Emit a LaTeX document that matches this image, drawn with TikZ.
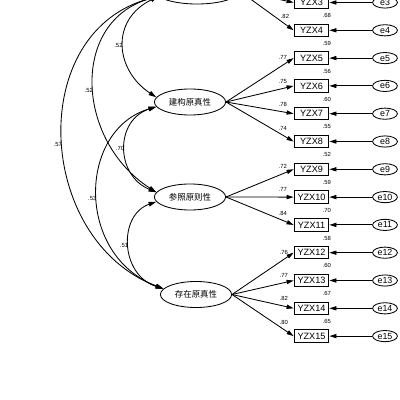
\documentclass[tikz,border=0pt]{standalone}
\usepackage{fontspec}
\setmainfont{Liberation Sans}
\newfontfamily\cjk{Noto Sans CJK SC}
\usetikzlibrary{shapes.geometric,arrows.meta,calc}

\begin{document}
\begin{tikzpicture}[
      x=0.025cm, y=0.025cm,
      latent/.style={ellipse, draw, line width=0.6pt, minimum width=1.78cm,
                    minimum height=0.65cm, inner sep=0pt,
                    font=\cjk\fontsize{6}{7}\selectfont},
      obs/.style={rectangle, draw, line width=0.7pt, minimum width=0.87cm,
                    minimum height=0.31cm, inner sep=0pt,
                    font=\fontsize{6.5}{7}\selectfont},
      err/.style={ellipse, draw, line width=0.6pt, minimum width=0.62cm,
                    minimum height=0.28cm, inner sep=0pt,
                    font=\fontsize{6.3}{7}\selectfont},
      coef/.style={font=\fontsize{4.2}{5}\selectfont, inner sep=0.5pt},
      arr/.style={-{Triangle[length=5pt,width=3pt]}, line width=0.6pt},
      cov/.style={{Triangle[length=5.5pt,width=3.2pt]}-{Triangle[length=5.5pt,width=3.2pt]}, line width=0.6pt}
    ]
      \useasboundingbox (0,0) rectangle (400,-400);
      \clip (0,0) rectangle (400,-400);
      % latent factors
      \node[latent, minimum width=2.1cm] (L1) at (197,9) {};
      \node[latent] (L2) at (190,-102) {建构原真性};
      \node[latent] (L3) at (190,-197) {参照原则性};
      \node[latent] (L4) at (196,-294.5) {存在原真性};
      % indicators
      \node[obs] (x3) at (311.5,-2.5) {YZX3};
      \node[err] (e3) at (385,-2.5) {e3};
      \draw[arr] (e3) -- (x3);
      \draw[arr] (L1.east) -- (x3.west);
      \foreach \i/\lat/\ld/\rs in {4/L1/.82/.68, 5/L2/.77/.59, 6/L2/.75/.56,
          7/L2/.78/.60, 8/L2/.74/.55, 9/L3/.72/.52, 10/L3/.77/.59, 11/L3/.84/.70,
          12/L4/.76/.58, 13/L4/.77/.60, 14/L4/.82/.67, 15/L4/.80/.65}{
        \pgfmathsetmacro\yy{-(2.5+(\i-3)*27.8)}
        \node[obs] (x\i) at (311.5,\yy) {YZX\i};
        \node[err] (e\i) at (385,\yy) {e\i};
        \draw[arr] (e\i) -- (x\i);
        \draw[arr] (\lat.east) -- node[coef, pos=0.84, above=0.1cm]{\ld} (x\i.west);
        \node[coef, anchor=south east] at ([xshift=0.06cm,yshift=0.12cm]x\i.north east) {\rs};
      }
      % correlations
      \draw[cov] (L1.188) .. controls (110,-20) and (115,-70) .. node[coef, pos=0.5, left]{.52} (L2.172);
      \draw[cov] (L1.188) .. controls (70,-20) and (75,-140) .. node[coef, pos=0.53, left]{.52} (L3.172);
      \draw[cov] (L1.188) .. controls (25,-30) and (35,-240) .. node[coef, pos=0.52, left]{.57} (L4.170);
      \draw[cov] (L2.188) .. controls (115,-120) and (115,-175) .. node[coef, pos=0.5, left]{.70} (L3.172);
      \draw[cov] (L2.188) .. controls (78,-130) and (75,-255) .. node[coef, pos=0.52, left]{.53} (L4.170);
      \draw[cov] (L3.188) .. controls (118,-215) and (120,-275) .. node[coef, pos=0.5, left]{.51} (L4.170);
    \end{tikzpicture}
\end{document}
